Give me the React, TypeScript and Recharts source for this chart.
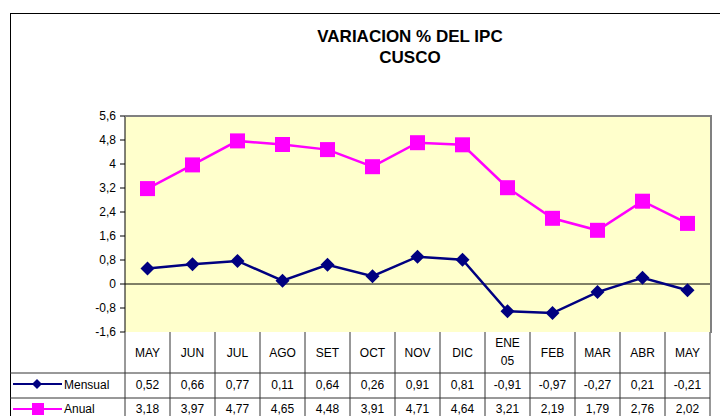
import React from 'react';
import { LineChart, Line, XAxis, YAxis, CartesianGrid, ReferenceLine } from 'recharts';

const MONTHS = ['MAY', 'JUN', 'JUL', 'AGO', 'SET', 'OCT', 'NOV', 'DIC', 'ENE\n05', 'FEB', 'MAR', 'ABR', 'MAY'];
const MENSUAL = [0.52, 0.66, 0.77, 0.11, 0.64, 0.26, 0.91, 0.81, -0.91, -0.97, -0.27, 0.21, -0.21];
const ANUAL = [3.18, 3.97, 4.77, 4.65, 4.48, 3.91, 4.71, 4.64, 3.21, 2.19, 1.79, 2.76, 2.02];
const Y_TICKS = [-1.6, -0.8, 0, 0.8, 1.6, 2.4, 3.2, 4, 4.8, 5.6];

const data = MONTHS.map((m, i) => ({ month: m, mensual: MENSUAL[i], anual: ANUAL[i] }));

const FONT = 'Arial, "Liberation Sans", sans-serif';
const NAVY = '#000080';
const PINK = '#FF00FF';
const GRID = '#333333';

// layout of the plot + data table
const PLOT_LEFT = 125;
const PLOT_RIGHT = 710;
const PLOT_TOP = 116;
const PLOT_BOTTOM = 332;
const FRAME_LEFT = 10;
const BAND = (PLOT_RIGHT - PLOT_LEFT) / MONTHS.length;
const HEADER_H = 41;
const ROW_H = 25;

const fmtAxis = (v: number) => (Number.isInteger(v) ? String(v) : v.toFixed(1).replace('.', ','));
const fmtCell = (v: number) => v.toFixed(2).replace('.', ',');

const Diamond = (props: any) => {
    const { cx, cy } = props;
    if (cx == null || cy == null) return null;
    const s = 7;
    return <path d={`M${cx},${cy - s}L${cx + s},${cy}L${cx},${cy + s}L${cx - s},${cy}Z`} fill={NAVY} />;
};

const Square = (props: any) => {
    const { cx, cy } = props;
    if (cx == null || cy == null) return null;
    const s = 7.5;
    return <rect x={cx - s} y={cy - s} width={s * 2} height={s * 2} fill={PINK} />;
};

const TableTick = (props: any) => {
    const { x, y, payload } = props;
    const i = props.index ?? payload.index;
    const left = x - BAND / 2;
    const right = x + BAND / 2;
    const r1 = y + HEADER_H;
    const r2 = r1 + ROW_H;
    const r3 = r2 + ROW_H;
    const lines = String(payload.value).split('\n');
    const txt = { fontFamily: FONT, fontSize: 12, fill: '#000', textAnchor: 'middle' as const };

    return (
        <g>
            <line x1={right} y1={y} x2={right} y2={r3 + 10} stroke={GRID} />
            <line x1={left} y1={r1} x2={right} y2={r1} stroke={GRID} />
            <line x1={left} y1={r2} x2={right} y2={r2} stroke={GRID} />
            {lines.length === 1 ? (
                <text x={x} y={y + HEADER_H / 2 + 4} {...txt}>{lines[0]}</text>
            ) : (
                lines.map((l, k) => (
                    <text key={k} x={x} y={y + HEADER_H / 2 - 6 + k * 18} {...txt}>{l}</text>
                ))
            )}
            <text x={x} y={r1 + ROW_H / 2 + 3} {...txt}>{fmtCell(MENSUAL[i])}</text>
            <text x={x} y={r2 + ROW_H / 2 + 2} {...txt}>{fmtCell(ANUAL[i])}</text>

            {i === 0 && (
                <g>
                    <line x1={left} y1={y} x2={left} y2={r3 + 10} stroke={GRID} />
                    <line x1={FRAME_LEFT} y1={r1} x2={left} y2={r1} stroke={GRID} />
                    <line x1={FRAME_LEFT} y1={r2} x2={left} y2={r2} stroke={GRID} />
                    {/* legend keys */}
                    <line x1={13} y1={r1 + 11} x2={62} y2={r1 + 11} stroke={NAVY} strokeWidth={2} />
                    <path d={`M37,${r1 + 6}L42,${r1 + 11}L37,${r1 + 16}L32,${r1 + 11}Z`} fill={NAVY} />
                    <text x={64} y={r1 + 16} fontFamily={FONT} fontSize={12} fill="#000">Mensual</text>
                    <line x1={13} y1={r2 + 11} x2={62} y2={r2 + 11} stroke={PINK} strokeWidth={2} />
                    <rect x={32} y={r2 + 5} width={12} height={12} fill={PINK} />
                    <text x={64} y={r2 + 15} fontFamily={FONT} fontSize={12} fill="#000">Anual</text>
                </g>
            )}
        </g>
    );
};

export default function App() {
    return (
        <div style={{ position: 'absolute', left: 0, top: 0, width: 720, height: 416, background: '#fff', overflow: 'hidden' }}>
            <div
                style={{
                    position: 'absolute',
                    left: FRAME_LEFT,
                    top: 13,
                    width: 740,
                    height: 440,
                    border: '1.5px solid #000',
                    boxSizing: 'border-box'
                }}
            />
            <div
                style={{
                    position: 'absolute',
                    left: 310,
                    top: 26,
                    width: 200,
                    textAlign: 'center',
                    fontFamily: FONT,
                    fontWeight: 'bold',
                    fontSize: 17,
                    lineHeight: '21px',
                    color: '#000'
                }}
            >
                VARIACION % DEL IPC
                <br />
                CUSCO
            </div>
            <div style={{ position: 'absolute', left: 0, top: 0 }}>
                <LineChart
                    width={720}
                    height={416}
                    data={data}
                    margin={{ top: PLOT_TOP, right: 720 - PLOT_RIGHT, left: 0, bottom: 0 }}
                >
                    <CartesianGrid horizontal={false} vertical={false} fill="#FFFFCC" />
                    <XAxis
                        dataKey="month"
                        height={416 - PLOT_BOTTOM}
                        axisLine={false}
                        tickLine={false}
                        tickSize={0}
                        tickMargin={0}
                        interval={0}
                        padding={{ left: BAND / 2, right: BAND / 2 }}
                        tick={<TableTick />}
                    />
                    <YAxis
                        width={PLOT_LEFT}
                        domain={[-1.6, 5.6]}
                        ticks={Y_TICKS}
                        interval={0}
                        tickFormatter={fmtAxis}
                        axisLine={{ stroke: '#000' }}
                        tickLine={{ stroke: '#000' }}
                        tickSize={5}
                        tickMargin={4}
                        tick={{ fill: '#000', fontSize: 12, fontFamily: FONT }}
                    />
                    <ReferenceLine y={0} stroke="#000" />
                    <Line
                        dataKey="mensual"
                        stroke={NAVY}
                        strokeWidth={2.5}
                        dot={<Diamond />}
                        activeDot={false}
                        isAnimationActive={false}
                    />
                    <Line
                        dataKey="anual"
                        stroke={PINK}
                        strokeWidth={2.5}
                        dot={<Square />}
                        activeDot={false}
                        isAnimationActive={false}
                    />
                </LineChart>
            </div>
            {/* plot area border */}
            <div
                style={{
                    position: 'absolute',
                    left: PLOT_LEFT,
                    top: PLOT_TOP - 1,
                    width: PLOT_RIGHT - PLOT_LEFT + 2,
                    height: PLOT_BOTTOM - PLOT_TOP + 2,
                    borderTop: '2px solid #808080',
                    borderRight: '2px solid #808080',
                    boxSizing: 'border-box',
                    pointerEvents: 'none'
                }}
            />
        </div>
    );
}
